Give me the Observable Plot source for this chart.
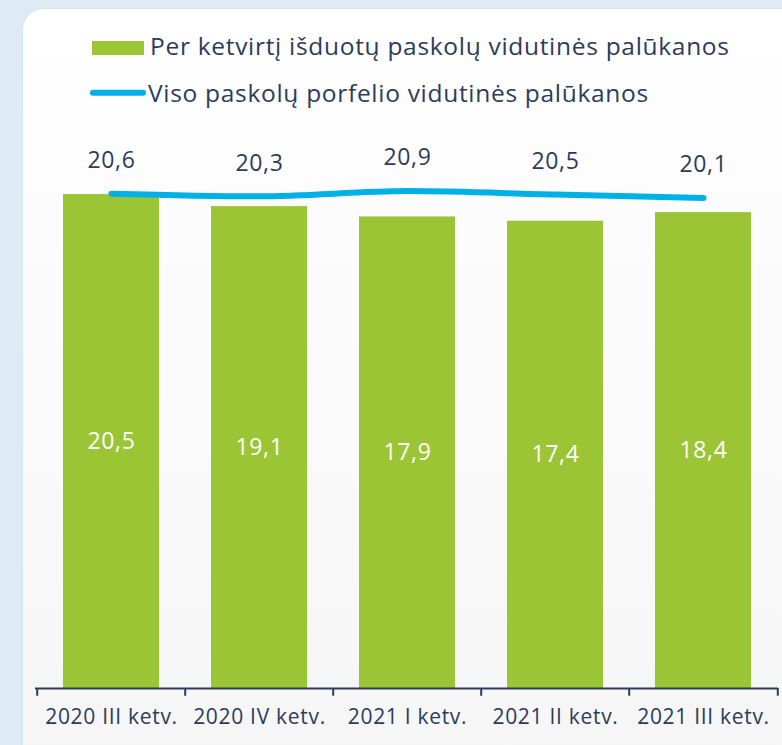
<!DOCTYPE html>
<html>
<head>
<meta charset="utf-8">
<script src="https://cdn.jsdelivr.net/npm/d3@7"></script>
<script src="https://cdn.jsdelivr.net/npm/@observablehq/plot@0.6"></script>
<style>
  html, body { margin: 0; padding: 0; background: #deebf5; }
  #wrap { position: relative; width: 782px; height: 745px; overflow: hidden; font-family: "Open Sans", sans-serif; }
  #card { position: absolute; left: 22px; top: 8px; width: 820px; height: 800px; border-radius: 22px;
          background: linear-gradient(#ffffff, #f5f5f5); border: 1.5px solid #d3e6f4; box-sizing: border-box; }
  #legend, #chart { position: relative; }
  #legend svg { display: block; }
</style>
</head>
<body>
<div id="wrap">
  <div id="card"></div>
  <div id="legend"></div>
  <div id="chart"></div>
</div>
<script>
const categories = ["2020 III ketv.", "2020 IV ketv.", "2021 I ketv.", "2021 II ketv.", "2021 III ketv."];
const issuedRates = [20.5, 19.1, 17.9, 17.4, 18.4];
const portfolioRates = [20.6, 20.3, 20.9, 20.5, 20.1];
const seriesNames = ["Per ketvirtį išduotų paskolų vidutinės palūkanos", "Viso paskolų porfelio vidutinės palūkanos"];

const green = "#9cc535";
const cyan = "#00b1e7";
const navy = "#2b3c5b";
const font = "'Open Sans', sans-serif";

const yMin = -36.9, yMax = 26.2;
const W = 782, H = 620, mL = 35, mR = 4, mT = 20, mB = 57;
const step = (W - mL - mR) / categories.length;

const data = categories.map((c, i) => ({cat: c, issued: issuedRates[i], portfolio: portfolioRates[i]}));
const fmt = v => v.toFixed(1).replace(".", ",");

// Legend
const ns = "http://www.w3.org/2000/svg";
const lg = document.createElementNS(ns, "svg");
lg.setAttribute("width", W); lg.setAttribute("height", 125);
lg.innerHTML = `
  <rect x="92" y="41" width="52" height="14" fill="${green}"></rect>
  <text x="150" y="54.5" font-family="${font}" font-size="24.5" letter-spacing="0.7" fill="${navy}">${seriesNames[0]}</text>
  <line x1="93" x2="143" y1="92.7" y2="92.7" stroke="${cyan}" stroke-width="6" stroke-linecap="round"></line>
  <text x="148" y="101.5" font-family="${font}" font-size="24.5" letter-spacing="0.7" fill="${navy}">${seriesNames[1]}</text>`;
document.getElementById("legend").appendChild(lg);

const chart = Plot.plot({
  width: W, height: H, marginLeft: mL, marginRight: mR, marginTop: mT, marginBottom: mB,
  style: {background: "transparent", fontFamily: font, overflow: "visible", letterSpacing: "0.7px"},
  x: {domain: categories, paddingInner: 0.354, paddingOuter: 0.177},
  y: {domain: [yMin, yMax], axis: null},
  marks: [
    Plot.barY(data, {x: "cat", y1: () => yMin, y2: "issued", fill: green}),
    Plot.text(data, {x: "cat", y: d => (yMin + d.issued) / 2, text: d => fmt(d.issued), fill: "white", fontSize: 23}),
    Plot.line(data, {x: "cat", y: "portfolio", stroke: cyan, strokeWidth: 6, curve: "monotone-x", strokeLinecap: "round"}),
    Plot.text(data, {x: "cat", y: "portfolio", dy: -33, text: d => fmt(d.portfolio), fill: navy, fontSize: 23}),
    Plot.ruleY([yMin], {stroke: navy, strokeWidth: 2}),
    Plot.ruleX(categories, {x: d => d, y1: yMin, y2: yMin - 0.9, dx: -step / 2, stroke: navy, strokeWidth: 2}),
    Plot.ruleX([categories[categories.length - 1]], {x: d => d, y1: yMin, y2: yMin - 0.9, dx: step / 2, stroke: navy, strokeWidth: 2}),
    Plot.axisX({tickSize: 0, tickPadding: 21, fontSize: 21, color: navy, label: null})
  ]
});
document.getElementById("chart").appendChild(chart);
</script>
</body>
</html>
